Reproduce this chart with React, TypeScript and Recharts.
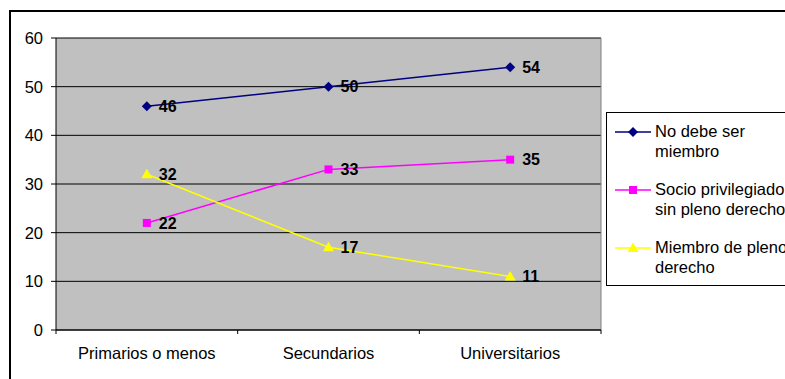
import { LineChart, Line, XAxis, YAxis, CartesianGrid, LabelList } from "recharts"

const categories = ["Primarios o menos", "Secundarios", "Universitarios"]
const noDebeSerMiembro = [46, 50, 54]
const socioPrivilegiado = [22, 33, 35]
const miembroPleno = [32, 17, 11]
const yTicks = [0, 10, 20, 30, 40, 50, 60]

const FONT = '"Liberation Sans", Arial, sans-serif'
const W = 785
const H = 379
const MARGIN = { top: 38, right: 184, bottom: 0, left: 0 }
const Y_W = 56
const X_H = 49
const TICK_SIZE = 4
const TICK_MARGIN = 13
const PLOT_W = W - MARGIN.left - MARGIN.right - Y_W
const BAND = PLOT_W / categories.length

const rows = categories.map((name, i) => ({
  name,
  a: noDebeSerMiembro[i],
  b: socioPrivilegiado[i],
  c: miembroPleno[i],
}))

const diamond = (cx: number, cy: number, color: string) => (
  <path d={`M${cx} ${cy - 5}L${cx + 5} ${cy}L${cx} ${cy + 5}L${cx - 5} ${cy}Z`} fill={color} />
)
const square = (cx: number, cy: number, color: string) => (
  <rect x={cx - 4} y={cy - 4} width={8} height={8} fill={color} />
)
const triangle = (cx: number, cy: number, color: string) => (
  <path d={`M${cx} ${cy - 5.5}L${cx + 5.5} ${cy + 4}L${cx - 5.5} ${cy + 4}Z`} fill={color} />
)

const series = [
  { key: "a", name: "No debe ser miembro", color: "#000080", shape: diamond },
  { key: "b", name: "Socio privilegiado sin pleno derecho", color: "#FF00FF", shape: square },
  { key: "c", name: "Miembro de pleno derecho", color: "#FFFF00", shape: triangle },
]

function XTick(props: any) {
  const { x, y, payload, index } = props
  const axisY = y - TICK_SIZE - TICK_MARGIN
  return (
    <g>
      <line x1={x - BAND / 2} y1={axisY} x2={x - BAND / 2} y2={axisY + TICK_SIZE} stroke="#000" />
      {index === categories.length - 1 && (
        <line x1={x + BAND / 2} y1={axisY} x2={x + BAND / 2} y2={axisY + TICK_SIZE} stroke="#000" />
      )}
      <text x={x} y={y} dy="0.71em" textAnchor="middle" fontSize={16.5} fontFamily={FONT} fill="#000">
        {payload.value}
      </text>
    </g>
  )
}

function ValueLabel(props: any) {
  const { x, y, value } = props
  return (
    <text x={x + 12} y={y} dy="0.36em" fontSize={16} fontWeight="bold" fontFamily={FONT} fill="#000">
      {value}
    </text>
  )
}

function Legend() {
  return (
    <div
      style={{
        position: "absolute",
        left: 606,
        top: 112,
        width: 200,
        height: 172,
        border: "1px solid #000",
        background: "#fff",
        fontFamily: FONT,
        fontSize: 16.5,
        lineHeight: "20px",
      }}
    >
      {series.map((s, i) => (
        <div key={s.key} style={{ position: "absolute", left: 0, top: 8 + i * 58 }}>
          <svg width={48} height={20} style={{ position: "absolute", left: 0, top: 0 }}>
            <line x1={8} y1={11} x2={44} y2={11} stroke={s.color} strokeWidth={1.5} />
            {s.shape(26, 11, s.color)}
          </svg>
          <div style={{ position: "absolute", left: 48, top: 0, width: 148 }}>{s.name}</div>
        </div>
      ))}
    </div>
  )
}

export default function App() {
  return (
    <div style={{ position: "absolute", left: 0, top: 0, width: W, height: H, overflow: "hidden", background: "#fff" }}>
      <style>{"html,body{margin:0;overflow:hidden}"}</style>
      <div
        style={{
          position: "absolute",
          left: 9,
          top: 10,
          width: W,
          height: H,
          border: "2px solid #000",
          boxSizing: "border-box",
        }}
      />
      <div style={{ position: "absolute", left: 0, top: 0 }}>
        <LineChart width={W} height={H} data={rows} margin={MARGIN}>
          <CartesianGrid vertical={false} stroke="#000" fill="#C0C0C0" fillOpacity={1} />
          <CartesianGrid
            horizontal={false}
            stroke="#808080"
            verticalCoordinatesGenerator={({ offset }: any) => [offset.left + offset.width]}
          />
          <XAxis
            dataKey="name"
            scale="band"
            height={X_H}
            axisLine={{ stroke: "#000" }}
            tickLine={false}
            tickSize={TICK_SIZE}
            tickMargin={TICK_MARGIN}
            tick={<XTick />}
            interval={0}
          />
          <YAxis
            width={Y_W}
            domain={[0, 60]}
            ticks={yTicks}
            interval={0}
            axisLine={{ stroke: "#000" }}
            tickLine={{ stroke: "#000" }}
            tickSize={5}
            tickMargin={8}
            tick={{ fill: "#000", fontSize: 16.5, fontFamily: FONT }}
          />
          {series.map((s) => (
            <Line
              key={s.key}
              dataKey={s.key}
              name={s.name}
              stroke={s.color}
              strokeWidth={1.5}
              isAnimationActive={false}
              dot={(p: any) => <g key={`${s.key}-${p.index}`}>{s.shape(p.cx, p.cy, s.color)}</g>}
              activeDot={false}
            >
              <LabelList dataKey={s.key} content={<ValueLabel />} />
            </Line>
          ))}
        </LineChart>
      </div>
      <Legend />
    </div>
  )
}
